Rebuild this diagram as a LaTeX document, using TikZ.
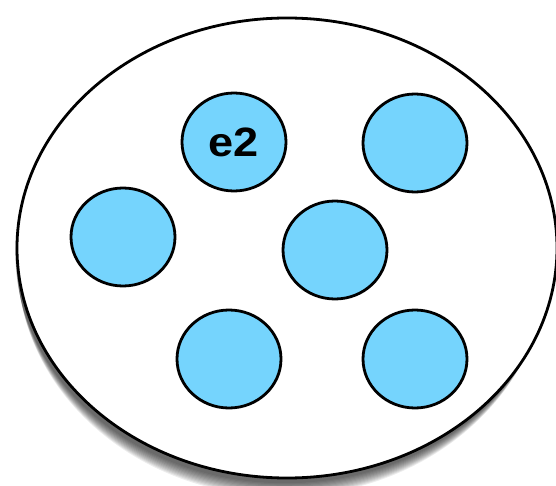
\documentclass[tikz,border=0pt]{standalone}
\usepackage{fontspec}
\setmainfont{Liberation Sans}
\usetikzlibrary{shapes.geometric}
\definecolor{ballblue}{HTML}{75D4FD}
\begin{document}
\begin{tikzpicture}[x=1pt,y=-1pt,
  ball/.style={ellipse, draw=black, line width=2.8pt, fill=ballblue, minimum width=104pt, minimum height=98pt, inner sep=0pt},
  ]
\useasboundingbox (0,0) rectangle (556,486);
\clip (0,0) rectangle (556,486);
% soft shadow
\foreach \i in {1,...,12}{
  \fill[black, opacity=0.07] ({285-0.2*\i},{251+\i*0.9}) ellipse ({270-0.4*\i} and {231+0.3*\i});
}
\node[ellipse, draw=black, line width=2.8pt, fill=white, minimum width=540pt, minimum height=460pt, inner sep=0pt] (outer) at (287,248) {};
\node[ball] (e2) at (234,142) {\raisebox{-4pt}{\fontsize{41}{41}\selectfont\bfseries\scalebox{1.1}[1]{e2}}};
\node[ball] (tr) at (415,143) {};
\node[ball] (l) at (123,237) {};
\node[ball] (m) at (335,250) {};
\node[ball] (bl) at (229,359) {};
\node[ball] (br) at (415,359) {};
\end{tikzpicture}
\end{document}
